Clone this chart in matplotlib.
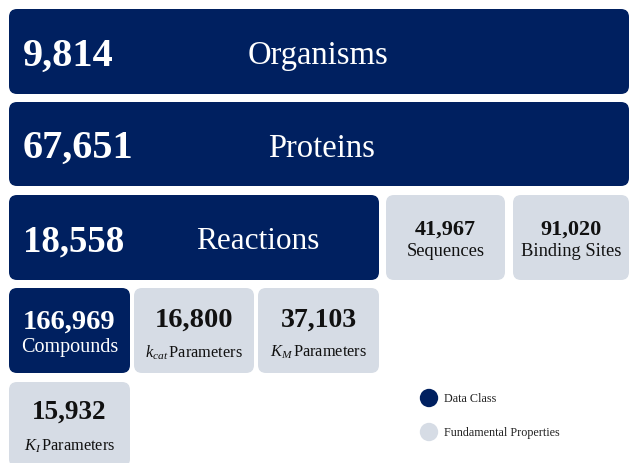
import matplotlib
matplotlib.use("Agg")
import matplotlib.pyplot as plt
from matplotlib.patches import FancyBboxPatch

plt.rcParams['font.family'] = ['Liberation Serif', 'DejaVu Serif']
plt.rcParams['mathtext.fontset'] = 'custom'
plt.rcParams['mathtext.rm'] = 'Liberation Serif'
plt.rcParams['mathtext.it'] = 'Liberation Serif:italic'

# ---- data ----
labels = ["Organisms", "Proteins", "Reactions", "Sequences", "Binding Sites",
          "Compounds", r"$k_{cat}$Parameters", r"$K_M$Parameters", r"$K_I$Parameters"]
values = [9814, 67651, 18558, 41967, 91020, 166969, 16800, 37103, 15932]
kinds = ["Data Class", "Data Class", "Data Class", "Fundamental Properties",
         "Fundamental Properties", "Data Class", "Fundamental Properties",
         "Fundamental Properties", "Fundamental Properties"]
legend_labels = ["Data Class", "Fundamental Properties"]

# ---- layout (pixel grid) ----
col_x0 = [9, 134, 258, 386, 513]
col_x1 = [130, 254, 379, 505, 629]
row_y0 = [10, 103, 196, 289, 383]
row_y1 = [95, 187, 281, 374, 468]
# (row, col_start, col_end)
spans = [(0, 0, 4), (1, 0, 4), (2, 0, 2), (2, 3, 3), (2, 4, 4),
         (3, 0, 0), (3, 1, 1), (3, 2, 2), (4, 0, 0)]
styles = ['wide', 'wide', 'wide', 'tile', 'tile', 'tile', 'tile', 'tile', 'tile']
wide_label_x = {0: 318, 1: 322, 2: 258}
num_size = [29, 29, 26.5, 16, 16, 20.5, 20.5, 20, 19.5]
lab_size = [23.5, 23.5, 22.5, 13.3, 13.3, 14.5, 11.8, 11.8, 11.8]
num_dy = [3.5, 3.5, 3.0, -9, -9, -9.5, -11.5, -11.5, -13]   # offset from box centre
lab_dy = [3.5, 3.5, 3.0, 13, 13, 16, 21, 21, 21]

colors = {"Data Class": "#002060", "Fundamental Properties": "#D6DCE5"}
text_colors = {"Data Class": "white", "Fundamental Properties": "#111111"}

fig = plt.figure(figsize=(6.30, 4.64), dpi=100)
ax = fig.add_axes([0, 0, 1, 1])
ax.set_xlim(0, 630)
ax.set_ylim(464, 0)
ax.axis('off')

for i, (lab, val, kind) in enumerate(zip(labels, values, kinds)):
    r, c0, c1 = spans[i]
    x0, x1 = col_x0[c0], col_x1[c1]
    y0, y1 = row_y0[r], row_y1[r]
    box = FancyBboxPatch((x0, y0), x1 - x0, y1 - y0,
                         boxstyle="round,pad=0,rounding_size=8",
                         facecolor=colors[kind], edgecolor='none')
    ax.add_patch(box)
    cy = (y0 + y1) / 2
    tc = text_colors[kind]
    lab_txt = lab.replace("$Parameters", r"\,$Parameters")
    if styles[i] == 'wide':
        ax.text(x0 + 14, cy + num_dy[i], f"{val:,}", color=tc, fontsize=num_size[i],
                fontweight='bold', ha='left', va='center')
        ax.text(wide_label_x[i], cy + lab_dy[i], lab_txt, color=tc, fontsize=lab_size[i],
                ha='center', va='center')
    else:
        cx = (x0 + x1) / 2
        ax.text(cx, cy + num_dy[i], f"{val:,}", color=tc, fontsize=num_size[i],
                fontweight='bold', ha='center', va='center')
        ax.text(cx, cy + lab_dy[i], lab_txt, color=tc, fontsize=lab_size[i],
                ha='center', va='center')

# legend
leg_y = [399, 433]
for ly, name in zip(leg_y, legend_labels):
    ax.scatter([429], [ly], s=175, color=colors[name], edgecolors='none', zorder=3)
    ax.text(444, ly, name, fontsize=8.7, color='#222222', ha='left', va='center')

fig.savefig("out.png", dpi=100)
